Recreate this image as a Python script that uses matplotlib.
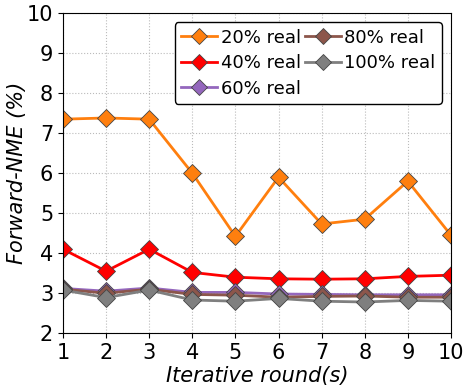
import matplotlib
matplotlib.use('Agg')
import matplotlib.pyplot as plt

rounds = [1, 2, 3, 4, 5, 6, 7, 8, 9, 10]
real20 = [7.35, 7.38, 7.35, 6.00, 4.42, 5.90, 4.73, 4.85, 5.80, 4.45]
real40 = [4.10, 3.55, 4.10, 3.52, 3.40, 3.36, 3.35, 3.36, 3.42, 3.45]
real60 = [3.12, 3.05, 3.13, 3.02, 3.02, 2.98, 2.97, 2.96, 2.96, 2.96]
real80 = [3.10, 3.00, 3.10, 2.97, 2.95, 2.90, 2.92, 2.93, 2.90, 2.90]
real100 = [3.08, 2.89, 3.08, 2.83, 2.80, 2.87, 2.80, 2.78, 2.82, 2.80]

series = [
    ('20% real', real20, 'tab:orange'),
    ('40% real', real40, 'red'),
    ('60% real', real60, 'tab:purple'),
    ('80% real', real80, 'tab:brown'),
    ('100% real', real100, 'tab:gray'),
]

fig = plt.figure(figsize=(4.63, 3.87), dpi=100)
ax = fig.add_axes([0.136, 0.139, 0.838, 0.827])

for label, vals, color in series:
    ax.plot(rounds, vals, '-D', color=color, linewidth=2, markersize=9,
            markeredgecolor='#444444', markeredgewidth=0.6, label=label)

ax.set_xlim(1, 10)
ax.set_ylim(2, 10)
ax.set_xticks(rounds)
ax.set_yticks(range(2, 11))
ax.tick_params(labelsize=15)
ax.grid(True, linestyle=':', color='#bbbbbb')
ax.set_xlabel('Iterative round(s)', fontsize=15, style='italic', labelpad=2)
ax.set_ylabel('Forward-NME (%)', fontsize=15, style='italic', labelpad=0)

leg = ax.legend(loc='upper right', ncol=2, fontsize=13, handlelength=2,
                handletextpad=0.2, columnspacing=0.2, labelspacing=0.42,
                borderpad=0.35, fancybox=True, framealpha=1, markerscale=0.9)
leg.get_frame().set_edgecolor('black')

fig.savefig('out.png', dpi=100)
